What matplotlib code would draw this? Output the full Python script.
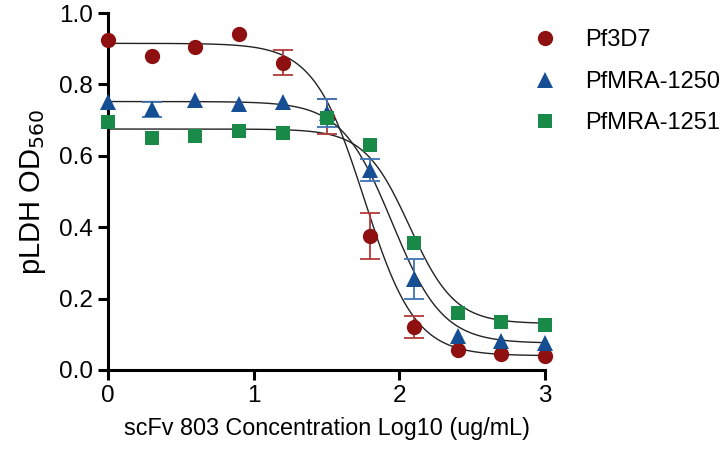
import numpy as np
import matplotlib
matplotlib.use("Agg")
import matplotlib.pyplot as plt

plt.rcParams['font.family'] = ['Liberation Sans', 'DejaVu Sans']

x = [0, 0.3, 0.6, 0.9, 1.2, 1.5, 1.8, 2.1, 2.4, 2.7, 3.0]

pf3d7 = [0.925, 0.88, 0.905, 0.94, 0.86, 0.71, 0.375, 0.12, 0.055, 0.045, 0.04]
pf3d7_err = [0, 0, 0, 0, 0.035, 0.05, 0.065, 0.03, 0, 0, 0]

mra1250 = [0.75, 0.73, 0.755, 0.745, 0.75, 0.72, 0.56, 0.255, 0.095, 0.08, 0.075]
mra1250_err = [0, 0.02, 0, 0, 0, 0.04, 0.03, 0.055, 0, 0, 0]

mra1251 = [0.695, 0.65, 0.655, 0.67, 0.665, 0.705, 0.63, 0.355, 0.16, 0.135, 0.125]
mra1251_err = [0, 0, 0, 0, 0, 0, 0, 0, 0, 0, 0]

# fitted 4-parameter logistic parameters: top, bottom, logIC50, hill
fit_pf3d7 = [0.915, 0.04, 1.76, 2.5]
fit_1250 = [0.752, 0.075, 1.95, 2.5]
fit_1251 = [0.675, 0.13, 2.07, 2.8]

labels = ['Pf3D7', 'PfMRA-1250', 'PfMRA-1251']
colors = ['#8E1010', '#154E93', '#1A8A48']
err_colors = ['#B03A3A', '#3F74B5', '#3FA066']
markers = ['o', '^', 's']


def four_pl(xx, p):
    top, bottom, ic50, h = p
    return bottom + (top - bottom) / (1 + 10 ** ((xx - ic50) * h))


fig = plt.figure(figsize=(7.22, 4.63), dpi=100)
ax = fig.add_axes([108 / 722, 1 - 370 / 463, (545 - 108) / 722, (370 - 13) / 463])

xs = np.linspace(0, 3, 300)
series = [(pf3d7, pf3d7_err, fit_pf3d7), (mra1250, mra1250_err, fit_1250), (mra1251, mra1251_err, fit_1251)]
handles = []
for (ys, es, fp), lab, c, ec, m in zip(series, labels, colors, err_colors, markers):
    ax.plot(xs, four_pl(xs, fp), color='#222222', lw=1.0, zorder=2)
    idx = [i for i, e in enumerate(es) if e > 0]
    if idx:
        ax.errorbar([x[i] for i in idx], [ys[i] for i in idx], yerr=[es[i] for i in idx],
                    fmt='none', ecolor=ec, elinewidth=1.3, capsize=7, capthick=1.3, zorder=3)
    ms = 11 if m != 's' else 10
    h, = ax.plot(x, ys, linestyle='none', marker=m, color=c, markersize=ms, markeredgewidth=0,
                 zorder=4, label=lab, clip_on=False)
    handles.append(h)

ax.set_xlim(0, 3)
ax.set_ylim(0, 1.0)
ax.set_xticks([0, 1, 2, 3])
ax.set_yticks([0, 0.2, 0.4, 0.6, 0.8, 1.0])
ax.set_yticklabels(['0.0', '0.2', '0.4', '0.6', '0.8', '1.0'])
for s in ['top', 'right']:
    ax.spines[s].set_visible(False)
for s in ['left', 'bottom']:
    ax.spines[s].set_linewidth(2.2)
ax.tick_params(axis='both', which='major', length=7, width=2.2, labelsize=17.5, pad=4)
ax.set_xlabel('scFv 803 Concentration Log10 (ug/mL)', fontsize=16.8, labelpad=7)
ax.set_ylabel('pLDH OD$_{560}$', fontsize=21, labelpad=8)

fig.legend(handles=handles, labels=labels, loc='upper left', bbox_to_anchor=(524 / 722, 1 - 20 / 463),
           frameon=False, fontsize=17, handletextpad=1.2, labelspacing=0.82, handlelength=1.0,
           markerscale=1.0, borderpad=0.4, borderaxespad=0)

fig.savefig('out.png', dpi=100)
